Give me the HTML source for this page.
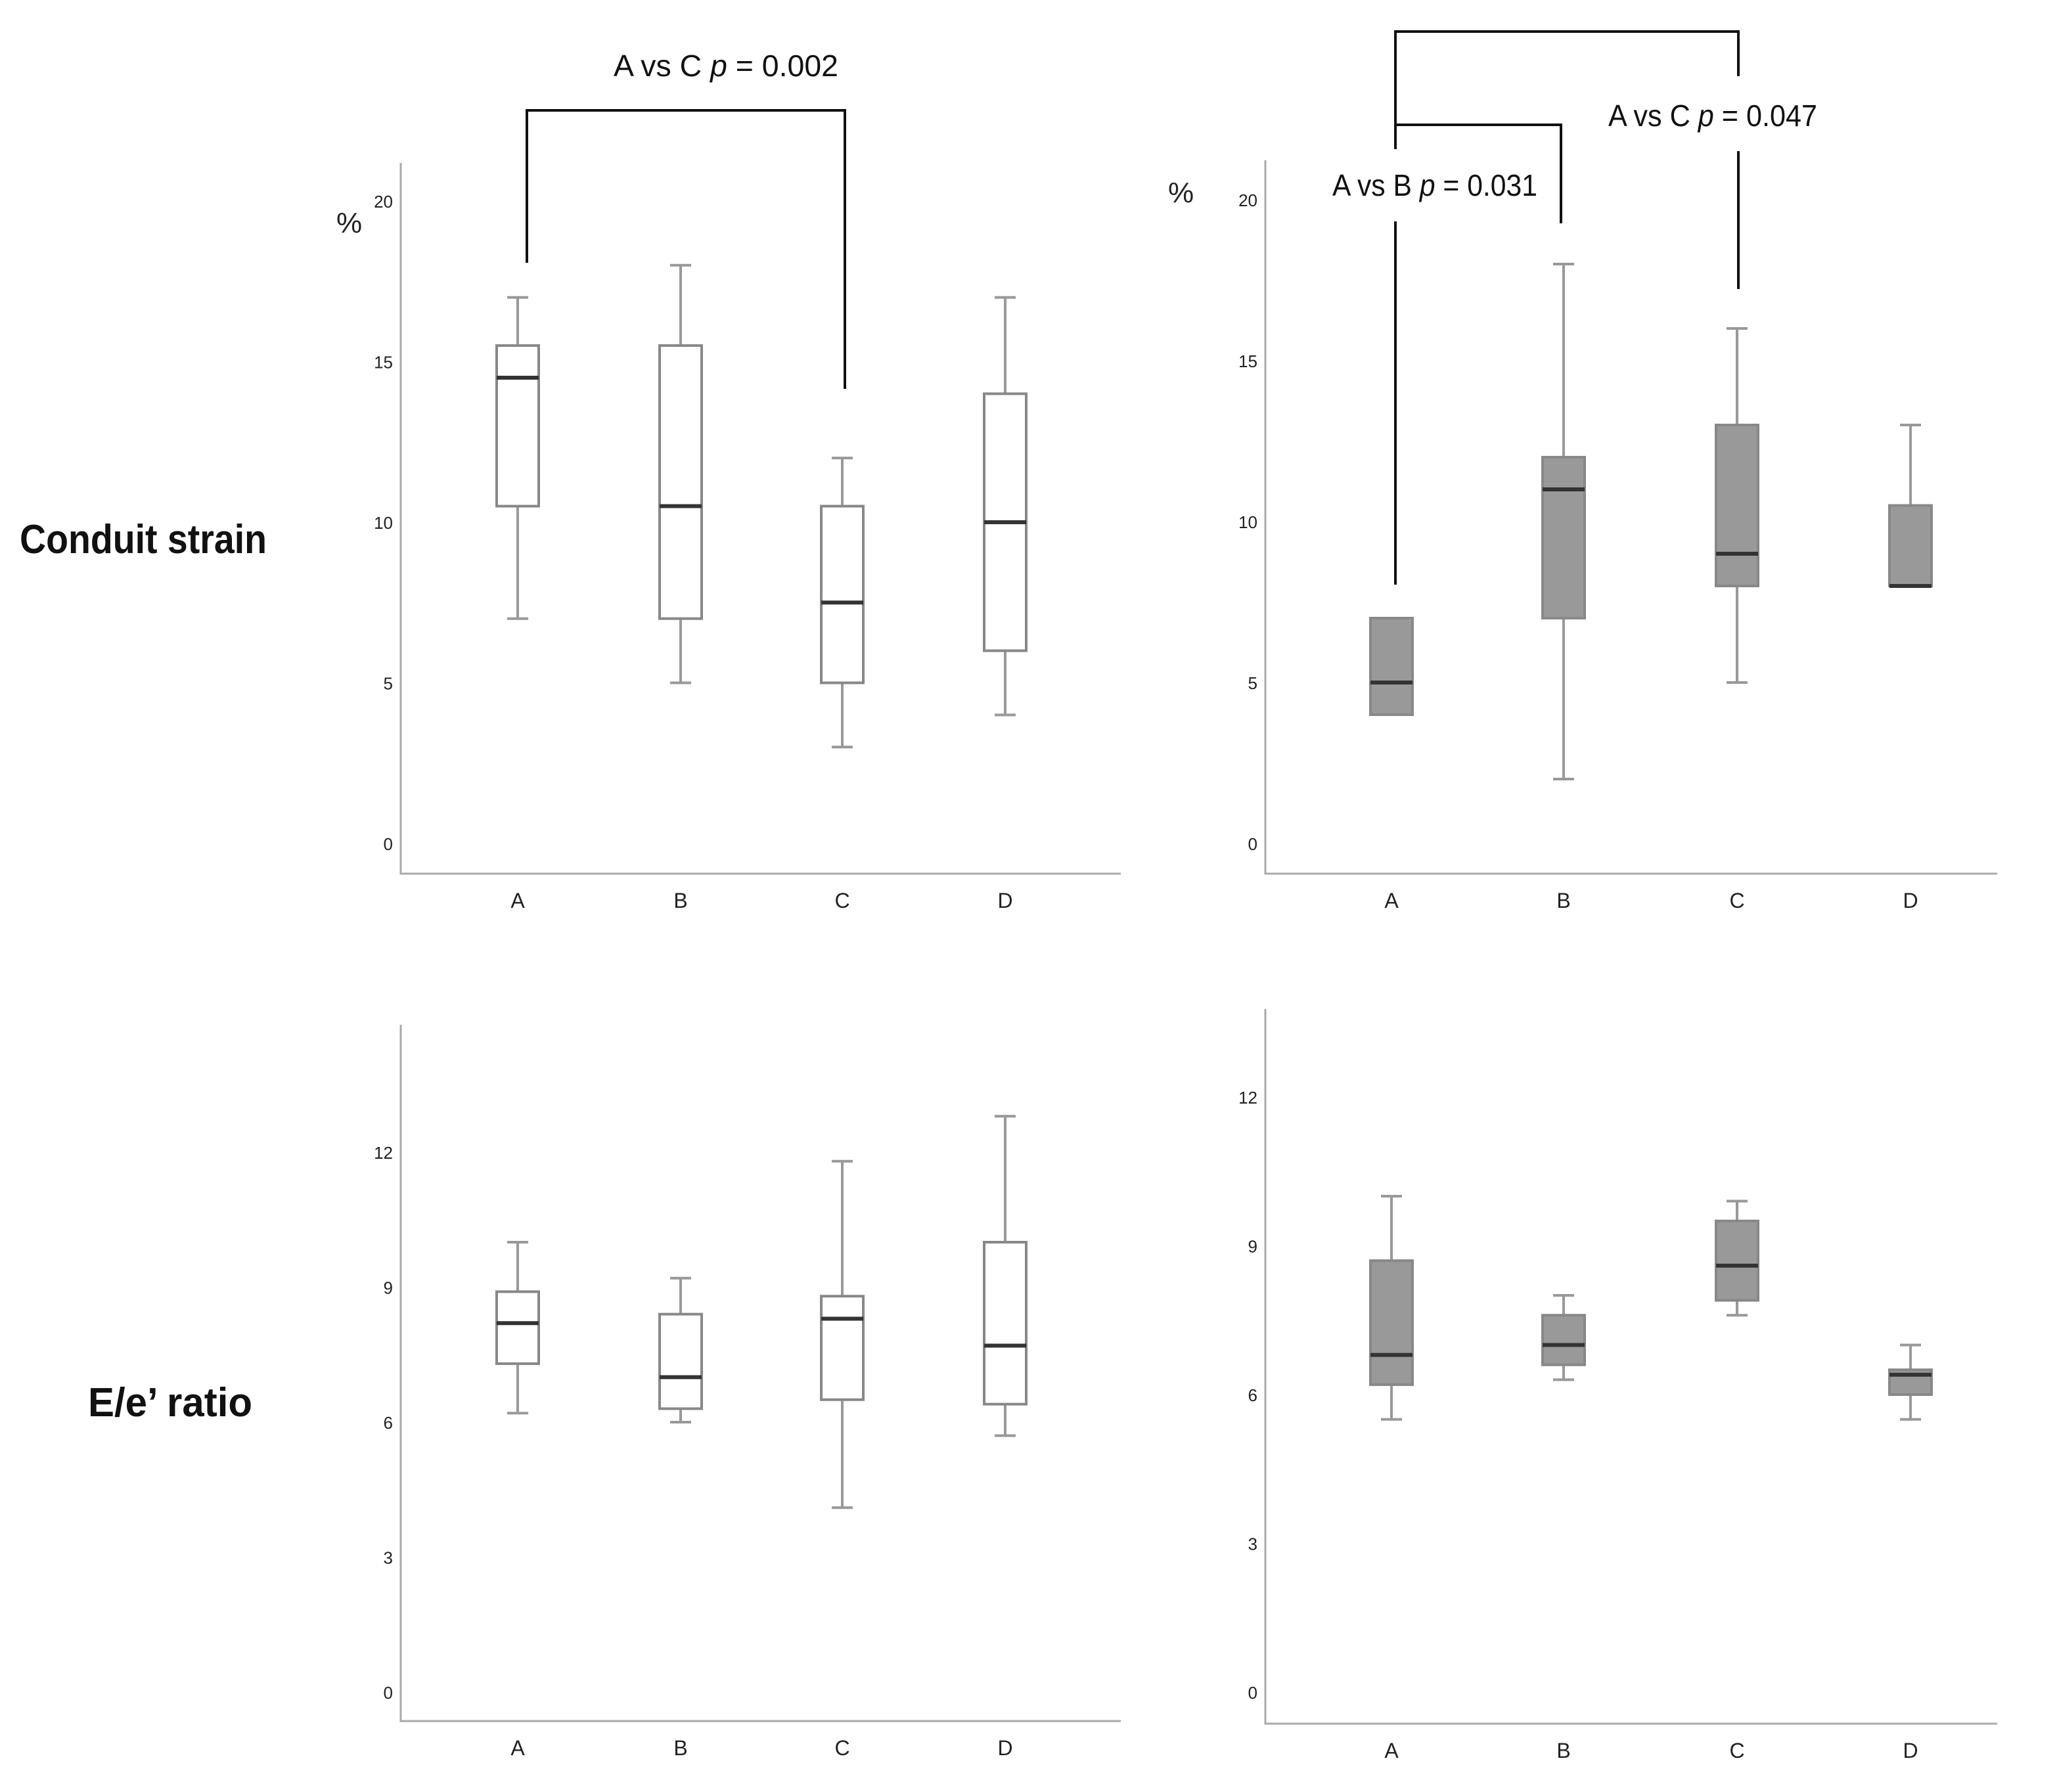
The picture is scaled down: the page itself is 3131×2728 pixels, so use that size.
<!DOCTYPE html>
<html><head><meta charset="utf-8"><style>
html,body{margin:0;padding:0;background:#fff}
svg{display:block}
text{font-family:"Liberation Sans",sans-serif}
</style></head><body>
<svg id="chart" width="3131" height="2728" viewBox="0 0 3131 2728" xmlns="http://www.w3.org/2000/svg">
<text x="30" y="842" font-size="62" font-weight="bold" fill="#111" textLength="376" lengthAdjust="spacingAndGlyphs">Conduit strain</text>
<text x="134" y="2156" font-size="62" font-weight="bold" fill="#111" textLength="250" lengthAdjust="spacingAndGlyphs">E/e’ ratio</text>
<text x="512" y="354" font-size="44" fill="#222">%</text>
<text x="1778" y="308" font-size="44" fill="#222">%</text>
<g id="annot" stroke="#111" stroke-width="4" fill="none">
<path d="M802 400 V168 H1286 V592"/>
<path d="M2124 227 V48 H2646 V116 M2646 230 V440 M2124 337 V890"/>
<path d="M2124 190 H2376 V340"/>
</g>
<text x="934" y="116" font-size="46" fill="#111" textLength="342" lengthAdjust="spacingAndGlyphs">A vs C  <tspan font-style="italic">p</tspan> = 0.002</text>
<text x="2028" y="298" font-size="46" fill="#111" textLength="312" lengthAdjust="spacingAndGlyphs">A vs B  <tspan font-style="italic">p</tspan> = 0.031</text>
<text x="2448" y="192" font-size="46" fill="#111" textLength="318" lengthAdjust="spacingAndGlyphs">A vs C  <tspan font-style="italic">p</tspan> = 0.047</text>
</svg>
<script>
const categories = ["A","B","C","D"];
// Conduit strain, left (white)
const csLeftMin = [7,5,3,4];
const csLeftQ1 = [10.5,7,5,6];
const csLeftMed = [14.5,10.5,7.5,10];
const csLeftQ3 = [15.5,15.5,10.5,14];
const csLeftMax = [17,18,12,17];
// Conduit strain, right (grey)
const csRightMin = [4,2,5,8];
const csRightQ1 = [4,7,8,8];
const csRightMed = [5,11,9,8];
const csRightQ3 = [7,12,13,10.5];
const csRightMax = [7,18,16,13];
// E/e' left
const eeLeftMin = [6.2,6,4.1,5.7];
const eeLeftQ1 = [7.3,6.3,6.5,6.4];
const eeLeftMed = [8.2,7,8.3,7.7];
const eeLeftQ3 = [8.9,8.4,8.8,10];
const eeLeftMax = [10,9.2,11.8,12.8];
// E/e' right
const eeRightMin = [5.5,6.3,7.6,5.5];
const eeRightQ1 = [6.2,6.6,7.9,6.0];
const eeRightMed = [6.8,7,8.6,6.4];
const eeRightQ3 = [8.7,7.6,9.5,6.5];
const eeRightMax = [10,8.0,9.9,7.0];
const csTicks = [0,5,10,15,20];
const eeTicks = [0,3,6,9,12];

const NS="http://www.w3.org/2000/svg";
const svg=document.getElementById('chart');
function mk(tag,attrs,parent){const e=document.createElementNS(NS,tag);for(const k in attrs)e.setAttribute(k,attrs[k]);(parent||svg).appendChild(e);return e;}

function panel(name,cfg,data,ticks,fill){
  const g=mk('g',{});
  
  
  const y=v=>cfg.y0-(v-ticks[0])*(cfg.y0-cfg.yTop)/(ticks[ticks.length-1]-ticks[0]);
  const x=i=>cfg.cx[i];
  const ax=mk('path',{d:`M${cfg.ax} ${cfg.axTop} V${cfg.axBot} H${cfg.axRight}`,stroke:'#aaa','stroke-width':3,fill:'none'},g);
  
  
  ticks.forEach(t=>{
    const tx=mk('text',{x:cfg.ax-12,y:y(t)+10,'font-size':26,'text-anchor':'end',fill:'#222'},g);
    
    
    tx.textContent=t;
  });
  categories.forEach((c,i)=>{
    const tx=mk('text',{x:x(i),y:cfg.axBot+52,'font-size':32,'text-anchor':'middle',fill:'#222'},g);
    
    
    tx.textContent=c;
    const bw=64,cap=32;
    const b=mk('g',{},g);
    
    
    mk('path',{d:`M${x(i)} ${y(data.max[i])} V${y(data.q3[i])} M${x(i)} ${y(data.q1[i])} V${y(data.min[i])} M${x(i)-cap/2} ${y(data.max[i])} h${cap} M${x(i)-cap/2} ${y(data.min[i])} h${cap}`,stroke:'#999','stroke-width':4,fill:'none'},b);
    mk('rect',{x:x(i)-bw/2,y:y(data.q3[i]),width:bw,height:Math.max(1,y(data.q1[i])-y(data.q3[i])),fill:fill,stroke:'#888','stroke-width':4},b);
    mk('line',{x1:x(i)-bw/2,x2:x(i)+bw/2,y1:y(data.med[i]),y2:y(data.med[i]),stroke:'#333','stroke-width':6},b);
  });
}
const L=[788,1036,1282,1530], R=[2118,2380,2644,2908];
panel('conduit-strain-left',{ax:610,axTop:248,axBot:1330,axRight:1706,y0:1284,yTop:306,cx:L},{min:csLeftMin,q1:csLeftQ1,med:csLeftMed,q3:csLeftQ3,max:csLeftMax},csTicks,'#fff');
panel('conduit-strain-right',{ax:1926,axTop:244,axBot:1330,axRight:3040,y0:1284,yTop:304,cx:R},{min:csRightMin,q1:csRightQ1,med:csRightMed,q3:csRightQ3,max:csRightMax},csTicks,'#999');
panel('ee-ratio-left',{ax:610,axTop:1560,axBot:2620,axRight:1706,y0:2576,yTop:1754,cx:L},{min:eeLeftMin,q1:eeLeftQ1,med:eeLeftMed,q3:eeLeftQ3,max:eeLeftMax},eeTicks,'#fff');
panel('ee-ratio-right',{ax:1926,axTop:1536,axBot:2624,axRight:3040,y0:2576,yTop:1670,cx:R},{min:eeRightMin,q1:eeRightQ1,med:eeRightMed,q3:eeRightQ3,max:eeRightMax},eeTicks,'#999');
svg.appendChild(document.getElementById('annot'));
</script>
</body></html>
